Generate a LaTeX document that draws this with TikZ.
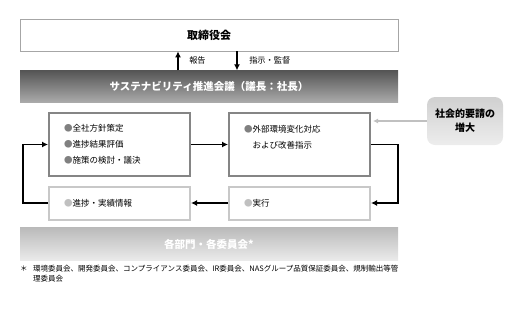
\documentclass[tikz,border=0pt]{standalone}
\usepackage{fontspec}
\setmainfont{Noto Sans CJK JP}
\usepackage{xcolor}
\usepackage{tikz}
\usetikzlibrary{arrows.meta,positioning,calc}
\definecolor{boardline}{HTML}{A6A6A6}
\definecolor{frame}{HTML}{858585}
\definecolor{framelt}{HTML}{C8C8C8}
\definecolor{dotdk}{HTML}{808080}
\definecolor{dotlt}{HTML}{C0C0C0}
\definecolor{bandtop}{HTML}{555555}
\definecolor{bandbot}{HTML}{ABABAB}
\definecolor{basetop}{HTML}{BABABA}
\definecolor{basebot}{HTML}{EBEBEB}
\definecolor{socitop}{HTML}{D0D0D0}
\definecolor{socibot}{HTML}{EDEDED}
\definecolor{inflow}{HTML}{C0C0C0}

\begin{document}
\begin{tikzpicture}[x=1pt,y=-1pt,font=\fontsize{8.5}{16}\selectfont,
  board/.style={draw=boardline,fill=white,line width=0.7pt,minimum width=378pt,minimum height=32pt,font=\fontsize{11}{13}\selectfont\bfseries},
  band/.style={minimum width=378pt,minimum height=32pt,text=white,font=\fontsize{10.5}{12}\selectfont\bfseries},
  phase/.style={draw=frame,fill=white,line width=2pt,minimum width=141pt,minimum height=63pt,align=left,text width=111pt,inner xsep=15pt},
  lowphase/.style={phase,draw=framelt,minimum height=33pt},
  tag/.style={font=\fontsize{8.2}{10}\selectfont},
  ar/.style={-{Latex[length=6pt,width=6pt]},line width=1.9pt}]
\useasboundingbox (0,0) rectangle (526,311);
\node[board] (board) at (209,35) {取締役会};
\node[band,top color=bandtop,bottom color=bandbot] (council) at (209,86.5) {サステナビリティ推進会議（議長：社長）};
\node[phase] (polA) at (119.5,144.5) {{\color{dotdk}●}全社方針策定\\{\color{dotdk}●}進捗結果評価\\{\color{dotdk}●}施策の検討・議決};
\node[phase,right=37pt of polA] (polB) {{\color{dotdk}●}外部環境変化対応\\\hspace*{1em}および改善指示\\\mbox{}};
\node[lowphase] (infoC) at (119.5,203) {{\color{dotlt}●}進捗・実績情報};
\node[lowphase,right=37pt of infoC] (actD) {{\color{dotlt}●}実行};
\node[band,top color=basetop,bottom color=basebot,minimum height=33pt] (units) at (209,244) {各部門・各委員会*};
\node[top color=socitop,bottom color=socibot,rounded corners=8pt,minimum width=76pt,minimum height=48pt,align=center,font=\fontsize{10}{14}\selectfont\bfseries] (society) at (465,121) {社会的要請の\\増大};
\node[anchor=north west,align=left,inner sep=0pt,font=\fontsize{7.5}{10}\selectfont] (note) at (20,265)
 {\makebox[13pt][l]{＊}環境委員会、開発委員会、コンプライアンス委員会、IR委員会、NASグループ品質保証委員会、規制輸出等管\\\hspace*{13pt}理委員会};
% report / instruction between board and council
\draw[ar] ($(council.north)+(-31,0)$) -- node[tag,right=7pt]{報告} ($(board.south)+(-31,0)$);
\draw[ar] ($(board.south)+(28,0)$) -- node[tag,right=8pt]{指示・監督} ($(council.north)+(28,0)$);
% PDCA loop
\draw[ar] (polA) -- (polB);
\draw[ar] (polB.east) -- (polB.east -| board.east) |- (actD.east);
\draw[ar] (actD) -- (infoC);
\draw[ar] (infoC.west) -- ($(infoC.west -| board.west)+(3,0)$) |- (polA.west);
\draw[-{Latex[length=5pt,width=5pt]},line width=1.3pt,draw=inflow] (society.west) -- ($(society.west -| polB.east)+(2,0)$);
\end{tikzpicture}
\end{document}
